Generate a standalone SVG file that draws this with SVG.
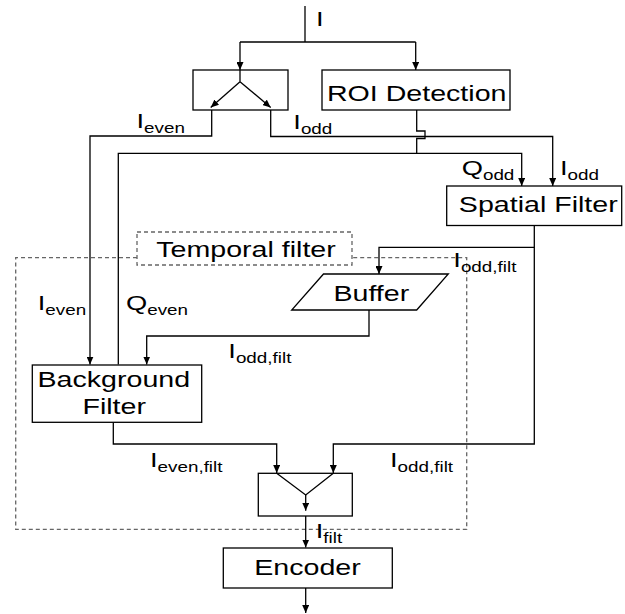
<svg xmlns="http://www.w3.org/2000/svg" width="625" height="614" viewBox="0 0 625 614">
  <defs>
    <marker id="arrow" markerUnits="userSpaceOnUse" markerWidth="8" markerHeight="7" refX="8" refY="3.5" orient="auto">
      <path d="M0,0 L8,3.5 L0,7 z" fill="#000"/>
    </marker>
    <style>
      .box { fill: #fff; stroke: #000; stroke-width: 1.3; }
      .wire { fill: none; stroke: #000; stroke-width: 1.3; }
      .arr { marker-end: url(#arrow); }
      .dash { fill: none; stroke: #666; stroke-width: 1.3; stroke-dasharray: 4 3; }
      .t { font-family: "Liberation Sans", Arial, sans-serif; font-size: 22px; fill: #000; }
      .c { text-anchor: middle; }
      .lbl { font-family: "Liberation Sans", Arial, sans-serif; font-size: 21px; fill: #000; }
      .sub { font-size: 14.5px; }
    </style>
  </defs>
  <rect width="625" height="614" fill="#fff"/>

  <!-- temporal filter region -->
  <g id="temporal-region">
    <path class="dash" d="M137,257.7 H15.7 V529.3 H466.7 V257.7 H352"/>
    <rect class="dash" x="137" y="232" width="215" height="33"/>
    <text class="t c" transform="translate(246,256.7) scale(1.3,1)">Temporal filter</text>
  </g>

  <!-- connectors -->
  <g id="connectors">
    <path class="wire" d="M305,6 V42"/>
    <path class="wire" d="M240,42 H415.7"/>
    <path class="wire arr" d="M240,42 V70"/>
    <path class="wire arr" d="M415.7,42 V70"/>
    <!-- even branch -->
    <path class="wire arr" d="M211.7,110 V136 H90 V364.5"/>
    <!-- odd branch -->
    <path class="wire arr" d="M270.7,110 V136.5 H552.7 V186"/>
    <!-- ROI output with hop -->
    <path class="wire" d="M416.7,110 V131 H425 V138.5 H416.7 V153.3"/>
    <path class="wire arr" d="M118.3,364.5 V153.3 H521.7 V186"/>
    <!-- spatial filter output -->
    <path class="wire arr" d="M534.3,225.5 V444 H333.3 V473"/>
    <path class="wire arr" d="M534.3,247.3 H379 V274"/>
    <!-- buffer output -->
    <path class="wire arr" d="M369,310 V336 H146.7 V364.5"/>
    <!-- background filter output -->
    <path class="wire arr" d="M113.3,422.3 V444 H276.7 V473"/>
    <!-- merge output -->
    <path class="wire arr" d="M305.7,516 V547.5"/>
    <path class="wire arr" d="M305.7,588 V613"/>
  </g>

  <g id="splitter">
    <rect class="box" x="193" y="70" width="95" height="40"/>
    <path class="wire" d="M240,70 V81.7"/>
    <path class="wire arr" d="M240,81.7 L210.7,107.5"/>
    <path class="wire arr" d="M240,81.7 L270.7,107.5"/>
  </g>

  <g id="roi-detection">
    <rect class="box" x="322" y="70" width="188" height="40"/>
    <text class="t c" transform="translate(416.7,101.3) scale(1.3,1)">ROI Detection</text>
  </g>

  <g id="spatial-filter">
    <rect class="box" x="446.7" y="186" width="175" height="39.5"/>
    <text class="t c" transform="translate(538.3,211.7) scale(1.3,1)">Spatial Filter</text>
  </g>

  <g id="buffer">
    <path class="box" d="M323.5,274 H448.3 L416.7,310 H291.7 z"/>
    <text class="t c" transform="translate(371.3,300.7) scale(1.3,1)">Buffer</text>
  </g>

  <g id="background-filter">
    <rect class="box" x="32.3" y="365" width="169.4" height="57.3"/>
    <text class="t c" transform="translate(113.8,387.3) scale(1.3,1)">Background</text>
    <text class="t c" transform="translate(114.2,414) scale(1.3,1)">Filter</text>
  </g>

  <g id="merger">
    <rect class="box" x="258.3" y="473.3" width="94" height="42.7"/>
    <path class="wire" d="M276.7,473.3 L305.7,495 L333.3,473.3"/>
    <path class="wire arr" d="M305.7,495 V510.7"/>
  </g>

  <g id="encoder">
    <rect class="box" x="223.3" y="548" width="169" height="40"/>
    <text class="t c" transform="translate(307.5,575) scale(1.3,1)">Encoder</text>
  </g>

  <!-- signal labels -->
  <g id="labels">
    <text class="lbl" transform="translate(316,25.7) scale(1.3,1)">I</text>
    <text class="lbl" transform="translate(136.5,128) scale(1.3,1)">I<tspan class="sub" dy="5">even</tspan></text>
    <text class="lbl" transform="translate(293.3,128.5) scale(1.3,1)">I<tspan class="sub" dy="5">odd</tspan></text>
    <text class="lbl" transform="translate(461.7,175) scale(1.3,1)">Q<tspan class="sub" dy="5">odd</tspan></text>
    <text class="lbl" transform="translate(560,175) scale(1.3,1)">I<tspan class="sub" dy="5">odd</tspan></text>
    <text class="lbl" transform="translate(453.3,266.7) scale(1.3,1)">I<tspan class="sub" dy="5">odd,filt</tspan></text>
    <text class="lbl" transform="translate(37.7,310) scale(1.3,1)">I<tspan class="sub" dy="5">even</tspan></text>
    <text class="lbl" transform="translate(126,310) scale(1.3,1)">Q<tspan class="sub" dy="5">even</tspan></text>
    <text class="lbl" transform="translate(228.3,357.7) scale(1.3,1)">I<tspan class="sub" dy="5">odd,filt</tspan></text>
    <text class="lbl" transform="translate(150,466.7) scale(1.3,1)">I<tspan class="sub" dy="5">even,filt</tspan></text>
    <text class="lbl" transform="translate(390,466.7) scale(1.3,1)">I<tspan class="sub" dy="5">odd,filt</tspan></text>
    <text class="lbl" transform="translate(315.7,538.3) scale(1.3,1)">I<tspan class="sub" dy="5">filt</tspan></text>
  </g>
</svg>
